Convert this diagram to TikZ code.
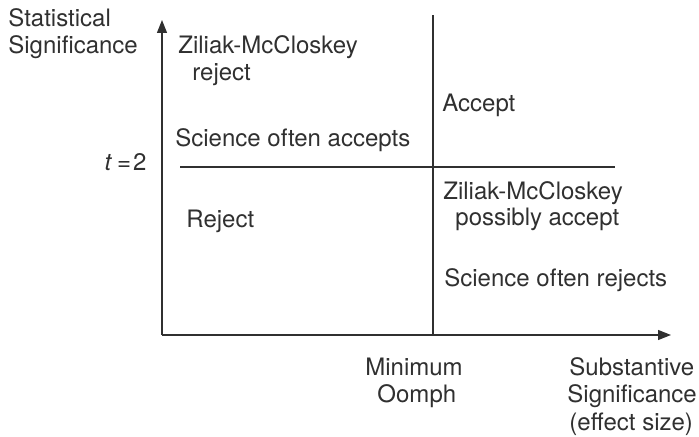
\documentclass[tikz,border=0pt]{standalone}
\usepackage{fontspec}
\setmainfont{TeX Gyre Heros}
\usepackage{xcolor}
\usetikzlibrary{arrows.meta}
\definecolor{inkgray}{HTML}{303030}

\begin{document}
\begin{tikzpicture}[x=0.5pt,y=-0.5pt,
    every node/.style={text=inkgray,inner sep=0pt,font=\fontsize{12}{14}\selectfont},
    axisline/.style={draw=inkgray,line width=0.65pt},
    lbl/.style={anchor=base west}]
    \useasboundingbox (0,0) rectangle (699,437);
    % axes and the two thresholds
    \coordinate (origin) at (162,335);
    \coordinate (ytop) at (162,20);
    \coordinate (xend) at (671,335);
    \coordinate (oomphbase) at (433,335);
    \coordinate (oomphtop) at (433,15);
    \coordinate (tleft) at (180,167);
    \coordinate (tright) at (615,167);

    \draw [axisline,-{Triangle[length=6.5pt,width=5pt]}] (origin) -- (ytop);
    \draw [axisline,-{Triangle[length=6.5pt,width=5pt]}] (origin) -- (xend);
    \draw [axisline] (oomphbase) -- (oomphtop);
    \draw [axisline] (tleft) -- (tright);

    % axis labels
    \node (statA) [lbl] at (8,27) {Statistical};
    \node (statB) [lbl] at (8,54) {Significance};
    \node (tval) [anchor=base east] at (147,171) {\textit{t}\kern2.5pt=\kern1pt2};
    \node (minA) [lbl] at (365,375) {Minimum};
    \node (minB) [lbl] at (377,402) {Oomph};
    \node (subA) [lbl] at (569,375) {Substantive};
    \node (subB) [lbl] at (567,402) {Significance};
    \node (subC) [lbl] at (569,430) {(effect size)};

    % quadrant texts
    \node (zmrejA) [lbl] at (178,54) {Ziliak-McCloskey};
    \node (zmrejB) [lbl] at (192,81) {reject};
    \node (sciacc) [lbl] at (175,147) {Science often accepts};
    \node (accept) [lbl] at (442,112) {Accept};
    \node (reject) [lbl] at (186,228) {Reject};
    \node (zmaccA) [lbl] at (443,200) {Ziliak-McCloskey};
    \node (zmaccB) [lbl] at (455,226) {possibly accept};
    \node (scirej) [lbl] at (444,287) {Science often rejects};
\end{tikzpicture}
\end{document}
